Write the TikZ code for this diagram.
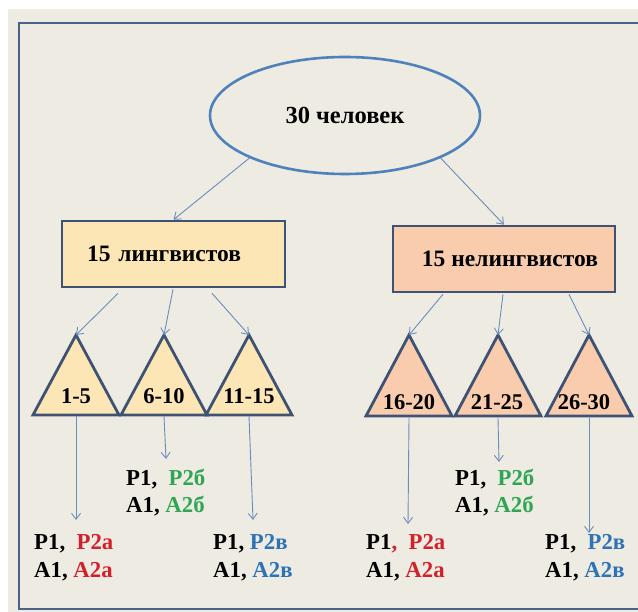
\documentclass[tikz,border=0pt]{standalone}
\usepackage{fontspec}
\setmainfont{Liberation Serif}
\usetikzlibrary{shapes.geometric,arrows.meta,calc}
\definecolor{bgc}{HTML}{EEEBE2}
\definecolor{framec}{HTML}{4A6489}
\definecolor{ellc}{HTML}{4F81BD}
\definecolor{boxc}{HTML}{3E5373}
\definecolor{arrc}{HTML}{6A8DBE}
\definecolor{lfill}{HTML}{FDE6B6}
\definecolor{rfill}{HTML}{F9CCAE}
\definecolor{cred}{HTML}{D2202C}
\definecolor{cgreen}{HTML}{2EA653}
\definecolor{cblue}{HTML}{2E74B5}
\tikzset{
  lbl/.style={font=\fontsize{22.5}{28}\selectfont\bfseries, inner sep=0pt},
  arr/.style={draw=arrc, line width=0.9pt, -{Straight Barb[length=6pt,width=9pt]}},
  boxs/.style={draw=boxc, line width=2.6pt, rectangle, minimum height=66pt, inner sep=0pt, font=\fontsize{23.5}{26}\selectfont\bfseries},
  tris/.style={draw=boxc, line width=2.8pt, line join=miter},
  res/.style={font=\fontsize{22.8}{28}\selectfont\bfseries, inner sep=0pt, align=left, anchor=base west}
}
\begin{document}
\begin{tikzpicture}[x=1pt,y=-1pt]
\useasboundingbox (0,0) rectangle (638,612);
\fill[white] (0,0) rectangle (638,612);
\fill[bgc] (8,9) rectangle (638,612);
\draw[framec, line width=2.6pt] (19,23) rectangle (660,609);

% root
\node[ellipse, draw=ellc, line width=2.6pt, minimum width=270pt, minimum height=117pt, inner sep=0pt,
      font=\fontsize{24.5}{28}\selectfont\bfseries] (top) at (345,115.5) {30 человек};

% groups
\node[boxs, fill=lfill, minimum width=223pt, text width=173pt, align=left] (lbox) at (173.5,254) {15 лингвистов};
\node[boxs, fill=rfill, minimum width=222pt] (rbox) at (504,259) {\hspace*{12pt}15 нелингвистов};

\draw[arr] (top.204) -- (lbox.north);
\draw[arr] (top.336) -- (rbox.north);

% triangles (left)
\foreach \n/\x/\t in {t1/76/1-5, t2/164/6-10, t3/249/11-15}{
  \draw[tris, fill=lfill] (\x-43,415) -- (\x,335) -- (\x+43,415) -- cycle;
  \coordinate (\n a) at (\x,335);
  \coordinate (\n b) at (\x,416);
  \node[lbl, anchor=base] (\n) at (\x,404) {\t};
}
% triangles (right)
\foreach \n/\x/\t in {t4/409/16-20, t5/498/21-25, t6/589/26-30}{
  \draw[tris, fill=rfill] (\x-43,416) -- (\x,335) -- (\x+43,416) -- cycle;
  \coordinate (\n a) at (\x,335);
  \coordinate (\n b) at (\x,418);
}
\node[lbl, anchor=base] (t4) at (409,410) {16-20};
\node[lbl, anchor=base] (t5) at (497,410) {21-25};
\node[lbl, anchor=base] (t6) at (584,410) {26-30};

% box -> triangles
\draw[arr] ($(lbox.south)+(-55.5,5)$) -- (t1a);
\draw[arr] ($(lbox.south)+(-0.5,1)$) -- (t2a);
\draw[arr] ($(lbox.south)+(38.5,5)$) -- (t3a);
\draw[arr] ($(rbox.south)+(-61,1)$) -- (t4a);
\draw[arr] ($(rbox.south)+(-1,1)$) -- (t5a);
\draw[arr] ($(rbox.south)+(65,1)$) -- (t6a);

% results (anchor = baseline of the last line)
\node[res] (r1) at (34,577) {Р1,\ \ \textcolor{cred}{Р2а}\\А1, \textcolor{cred}{А2а}};
\node[res] (r2) at (126,513) {Р1,\ \ \textcolor{cgreen}{Р2б}\\А1, \textcolor{cgreen}{А2б}};
\node[res] (r3) at (213,577) {Р1, \textcolor{cblue}{Р2в}\\А1, \textcolor{cblue}{А2в}};
\node[res] (r4) at (366,577) {Р1\textcolor{cred}{,\ \ Р2а}\\А1, \textcolor{cred}{А2а}};
\node[res] (r5) at (455,513) {Р1,\ \ \textcolor{cgreen}{Р2б}\\А1, \textcolor{cgreen}{А2б}};
\node[res] (r6) at (545,577) {Р1,\ \ \textcolor{cblue}{Р2в}\\А1, \textcolor{cblue}{А2в}};

% triangles -> results
\draw[arr] (t1b) -- ($(t1b)+(0,104)$) coordinate (e1);
\draw[arr] (t2b) -- ($(t2b)+(2,43)$) coordinate (e2);
\draw[arr] (t3b) -- ($(t3b)+(4,104)$) coordinate (e3);
\draw[arr] (t4b) -- ($(t4b)+(-1,106)$) coordinate (e4);
\draw[arr] (t5b) -- ($(t5b)+(1,44)$) coordinate (e5);
\draw[arr] (t6b) -- ($(t6b)+(0,115)$) coordinate (e6);
\end{tikzpicture}
\end{document}
